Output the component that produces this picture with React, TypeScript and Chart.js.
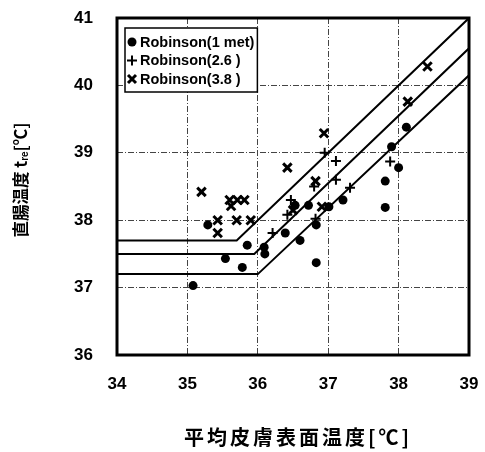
import React, { useEffect, useRef } from 'react';
import { Chart, registerables } from 'chart.js';

Chart.register(...registerables);

// ---- data ----
const xMin = 34;
const xMax = 39;
const yMin = 36;
const yMax = 41;

const legendLabels = ['Robinson(1 met)', 'Robinson(2.6 )', 'Robinson(3.8 )'];

// Robinson (1 met) - filled circles
const met1X = [35.08, 35.29, 35.54, 35.78, 35.85, 36.09, 36.1, 36.39, 36.53, 36.6, 36.72, 36.83, 36.83, 37.01, 37.21, 37.81, 37.81, 37.9, 38.0, 38.11];
const met1Y = [37.03, 37.93, 37.43, 37.3, 37.63, 37.6, 37.5, 37.81, 38.22, 37.7, 38.22, 37.93, 37.37, 38.2, 38.3, 38.58, 38.19, 39.09, 38.78, 39.38];

// Robinson (2.6) - plus
const met26X = [36.21, 36.42, 36.47, 36.8, 36.82, 36.95, 37.11, 37.11, 37.31, 37.88];
const met26Y = [37.81, 38.08, 38.3, 38.5, 38.02, 39.0, 38.88, 38.6, 38.48, 38.87];

// Robinson (3.8) - X
const met38X = [35.2, 35.43, 35.43, 35.6, 35.62, 35.71, 35.81, 35.7, 35.9, 36.42, 36.5, 36.82, 36.91, 36.94, 38.13, 38.41];
const met38Y = [38.42, 38.0, 37.81, 38.3, 38.21, 38.3, 38.3, 38.0, 38.0, 38.78, 38.15, 38.58, 38.2, 39.29, 39.76, 40.28];

// regression (piecewise) lines
const lineTopX = [34, 35.7, 39];
const lineTopY = [37.7, 37.7, 41.0];
const lineMidX = [34, 35.95, 39];
const lineMidY = [37.5, 37.5, 40.55];
const lineLowX = [34, 36.0, 39];
const lineLowY = [37.2, 37.2, 40.15];

const xTitle = '平均皮膚表面温度[℃]';
const yTitleMain = '直腸温度 t';
const yTitleSub = 're';
const yTitleEnd = '[℃]';

const zip = (xs: number[], ys: number[]) => xs.map((x, i) => ({ x, y: ys[i] }));

const CJK = '"Noto Sans CJK JP", "Noto Sans", sans-serif';
const SANS = '"Liberation Sans", Arial, sans-serif';

function drawMarker(ctx: CanvasRenderingContext2D, kind: number, x: number, y: number) {
  ctx.save();
  ctx.strokeStyle = '#000';
  ctx.fillStyle = '#000';
  if (kind === 0) {
    ctx.beginPath();
    ctx.arc(x, y, 4.5, 0, Math.PI * 2);
    ctx.fill();
  } else if (kind === 1) {
    ctx.lineWidth = 2;
    ctx.beginPath();
    ctx.moveTo(x - 5, y);
    ctx.lineTo(x + 5, y);
    ctx.moveTo(x, y - 5);
    ctx.lineTo(x, y + 5);
    ctx.stroke();
  } else {
    ctx.lineWidth = 3;
    ctx.beginPath();
    ctx.moveTo(x - 4, y - 4);
    ctx.lineTo(x + 4, y + 4);
    ctx.moveTo(x + 4, y - 4);
    ctx.lineTo(x - 4, y + 4);
    ctx.stroke();
  }
  ctx.restore();
}

const decorPlugin = {
  id: 'decor',
  afterDraw(chart: any) {
    const ctx: CanvasRenderingContext2D = chart.ctx;
    const a = chart.chartArea;
    ctx.save();
    // frame
    ctx.strokeStyle = '#000';
    ctx.lineWidth = 3;
    ctx.setLineDash([]);
    ctx.strokeRect(a.left, a.top, a.right - a.left, a.bottom - a.top);

    // legend
    ctx.font = `bold 14.5px ${SANS}`;
    const textW = Math.max(...legendLabels.map((t) => ctx.measureText(t).width));
    const bx = a.left + 8;
    const by = a.top + 10;
    const textX = bx + 15;
    const bw = 15 + textW + 3;
    const bh = 64;
    ctx.fillStyle = '#fff';
    ctx.fillRect(bx, by, bw, bh);
    ctx.lineWidth = 1.5;
    ctx.strokeStyle = '#000';
    ctx.strokeRect(bx, by, bw, bh);
    const rowY = [by + 14, by + 32.5, by + 51];
    legendLabels.forEach((t, i) => {
      drawMarker(ctx, i, bx + 7, rowY[i]);
      ctx.fillStyle = '#000';
      ctx.textAlign = 'left';
      ctx.textBaseline = 'middle';
      ctx.fillText(t, textX, rowY[i] + 0.5);
    });

    // x title
    ctx.fillStyle = '#000';
    ctx.font = `bold 20px ${CJK}`;
    (ctx as any).letterSpacing = '3px';
    ctx.textAlign = 'center';
    ctx.textBaseline = 'middle';
    ctx.fillText(xTitle, (a.left + a.right) / 2 + 5, 437);
    (ctx as any).letterSpacing = '0px';

    // y title (rotated)
    const cy = 180;
    ctx.translate(21, cy);
    ctx.rotate(-Math.PI / 2);
    const fMain = `bold 16.5px ${CJK}`;
    const fSub = `bold 10px ${SANS}`;
    ctx.font = fMain;
    const w1 = ctx.measureText(yTitleMain).width;
    const w3 = ctx.measureText(yTitleEnd).width;
    ctx.font = fSub;
    const w2 = ctx.measureText(yTitleSub).width;
    let x0 = -(w1 + w2 + w3) / 2;
    ctx.textAlign = 'left';
    ctx.textBaseline = 'middle';
    ctx.font = fMain;
    ctx.fillText(yTitleMain, x0, 0);
    x0 += w1;
    ctx.font = fSub;
    ctx.fillText(yTitleSub, x0, 4);
    x0 += w2;
    ctx.font = fMain;
    ctx.fillText(yTitleEnd, x0, 0);
    ctx.restore();
  },
};

export default function App() {
  const ref = useRef<HTMLCanvasElement>(null);
  useEffect(() => {
    document.body.style.margin = '0';
    const lineDs = (xs: number[], ys: number[]) => ({
      type: 'line' as const,
      data: zip(xs, ys),
      borderColor: '#000',
      borderWidth: 2,
      pointRadius: 0,
      fill: false,
      tension: 0,
    });
    const chart = new Chart(ref.current!, {
      type: 'scatter',
      data: {
        datasets: [
          lineDs(lineTopX, lineTopY),
          lineDs(lineMidX, lineMidY),
          lineDs(lineLowX, lineLowY),
          {
            label: legendLabels[0],
            data: zip(met1X, met1Y),
            pointStyle: 'circle',
            pointRadius: 4.5,
            backgroundColor: '#000',
            borderColor: '#000',
            borderWidth: 0,
          },
          {
            label: legendLabels[1],
            data: zip(met26X, met26Y),
            pointStyle: 'cross',
            pointRadius: 5,
            backgroundColor: '#000',
            borderColor: '#000',
            borderWidth: 2,
          },
          {
            label: legendLabels[2],
            data: zip(met38X, met38Y),
            pointStyle: 'crossRot',
            pointRadius: 6,
            backgroundColor: '#000',
            borderColor: '#000',
            borderWidth: 3,
          },
        ] as any,
      },
      options: {
        animation: false,
        responsive: false,
        layout: { padding: { top: 18, right: 16, left: 0, bottom: 0 } },
        plugins: { legend: { display: false }, tooltip: { enabled: false } },
        scales: {
          x: {
            type: 'linear',
            min: xMin,
            max: xMax,
            ticks: { stepSize: 1, padding: 19, color: '#000', font: { family: SANS, size: 17, weight: 'bold' } },
            grid: { color: '#444', lineWidth: 1, drawTicks: false },
            border: { display: false, dash: [6, 2, 1, 2] },
            afterFit: (s: any) => { s.height = 97; s.paddingLeft = 0; s.paddingRight = 0; },
          },
          y: {
            type: 'linear',
            min: yMin,
            max: yMax,
            ticks: { stepSize: 1, padding: 24, color: '#000', font: { family: SANS, size: 17, weight: 'bold' } },
            grid: { color: '#444', lineWidth: 1, drawTicks: false },
            border: { display: false, dash: [6, 2, 1, 2] },
            afterFit: (s: any) => { s.width = 117; s.paddingTop = 0; s.paddingBottom = 0; },
          },
        },
      } as any,
      plugins: [decorPlugin],
    });
    return () => chart.destroy();
  }, []);
  return (
    <div style={{ width: 485, height: 452 }}>
      <canvas ref={ref} width={485} height={452} />
    </div>
  );
}
